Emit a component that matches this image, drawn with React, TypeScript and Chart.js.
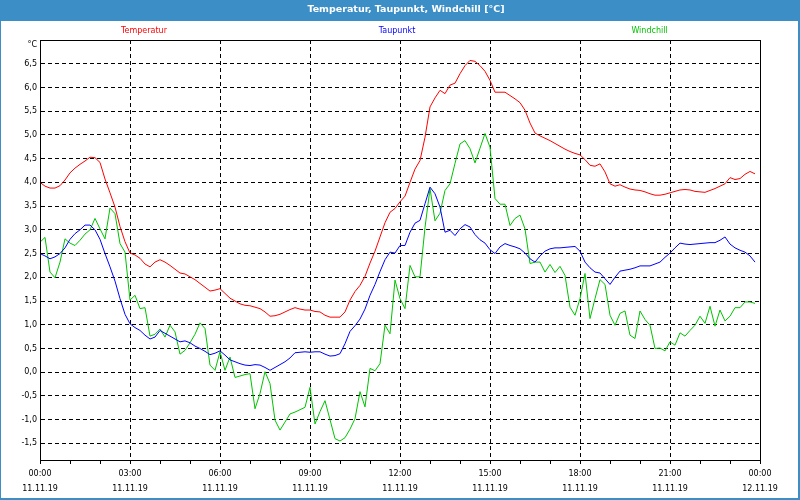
import React, { useEffect, useRef } from 'react';
import { Chart, registerables } from 'chart.js';

Chart.register(...registerables);

// Measurement times: every 10 minutes from 00:00 (minutes since midnight)
const timeMinutes: number[] = Array.from({ length: 144 }, (_, i) => i * 10);

const temperatur: number[] = [
  4.00, 3.92, 3.88, 3.88, 3.93, 4.05, 4.20, 4.30, 4.38, 4.45,
  4.53, 4.52, 4.42, 4.07, 3.78, 3.48, 3.07, 2.75, 2.51, 2.47,
  2.40, 2.28, 2.22, 2.32, 2.37, 2.32, 2.25, 2.17, 2.09, 2.07,
  2.01, 1.95, 1.87, 1.79, 1.71, 1.73, 1.76, 1.66, 1.56, 1.50,
  1.44, 1.41, 1.40, 1.37, 1.34, 1.27, 1.18, 1.19, 1.22, 1.27,
  1.32, 1.36, 1.33, 1.31, 1.31, 1.28, 1.27, 1.20, 1.16, 1.16,
  1.16, 1.27, 1.52, 1.70, 1.83, 2.02, 2.30, 2.55, 2.85, 3.15,
  3.37, 3.45, 3.59, 3.71, 4.00, 4.28, 4.46, 4.95, 5.59, 5.78,
  5.94, 5.87, 6.05, 6.09, 6.29, 6.46, 6.57, 6.55, 6.46, 6.34,
  6.15, 5.90, 5.90, 5.90, 5.83, 5.76, 5.68, 5.52, 5.25, 5.04,
  4.98, 4.93, 4.88, 4.82, 4.76, 4.70, 4.65, 4.61, 4.58, 4.48,
  4.36, 4.34, 4.39, 4.22, 3.97, 3.92, 3.95, 3.90, 3.86, 3.84,
  3.83, 3.80, 3.76, 3.73, 3.73, 3.75, 3.78, 3.81, 3.84, 3.85,
  3.84, 3.81, 3.80, 3.79, 3.83, 3.87, 3.92, 3.97, 4.10, 4.06,
  4.08, 4.17, 4.23, 4.18,
];

const taupunkt: number[] = [
  2.50, 2.45, 2.39, 2.43, 2.50, 2.62, 2.80, 2.92, 3.00, 3.10,
  3.10, 3.00, 2.80, 2.50, 2.22, 1.92, 1.55, 1.22, 1.02, 0.94,
  0.88, 0.78, 0.70, 0.74, 0.88, 0.82, 0.76, 0.70, 0.64, 0.66,
  0.62, 0.55, 0.50, 0.44, 0.37, 0.40, 0.45, 0.36, 0.26, 0.22,
  0.18, 0.15, 0.14, 0.16, 0.15, 0.10, 0.04, 0.10, 0.16, 0.22,
  0.30, 0.41, 0.42, 0.43, 0.42, 0.43, 0.43, 0.38, 0.34, 0.35,
  0.39, 0.60, 0.86, 0.98, 1.12, 1.33, 1.62, 1.85, 2.12, 2.37,
  2.53, 2.51, 2.67, 2.67, 2.95, 3.14, 3.20, 3.55, 3.90, 3.76,
  3.48, 2.95, 2.99, 2.88, 3.02, 3.11, 3.06, 2.90, 2.79, 2.72,
  2.58, 2.50, 2.64, 2.71, 2.67, 2.64, 2.60, 2.51, 2.39, 2.32,
  2.45, 2.55, 2.60, 2.62, 2.62, 2.63, 2.64, 2.65, 2.55, 2.32,
  2.20, 2.11, 2.09, 1.97, 1.85, 2.00, 2.13, 2.15, 2.17, 2.20,
  2.24, 2.24, 2.24, 2.28, 2.32, 2.42, 2.51, 2.62, 2.72, 2.70,
  2.69, 2.70, 2.71, 2.72, 2.73, 2.73, 2.78, 2.85, 2.70, 2.62,
  2.57, 2.53, 2.45, 2.32,
];

const windchill: number[] = [
  2.74, 2.84, 2.11, 1.99, 2.32, 2.81, 2.72, 2.67, 2.78, 2.91,
  3.00, 3.24, 3.02, 2.81, 3.46, 3.34, 2.71, 2.53, 1.52, 1.62,
  1.34, 1.36, 0.76, 0.80, 0.91, 0.74, 0.99, 0.85, 0.38, 0.46,
  0.62, 0.80, 1.04, 0.92, 0.15, 0.04, 0.43, 0.04, 0.32, -0.11,
  -0.08, -0.05, -0.03, -0.77, -0.45, 0.01, -0.24, -1.01, -1.22, -1.05,
  -0.88, -0.84, -0.79, -0.74, -0.32, -1.09, -0.83, -0.60, -1.00, -1.40,
  -1.45, -1.38, -1.20, -0.98, -0.41, -0.73, 0.08, 0.03, 0.18, 0.99,
  0.81, 1.94, 1.55, 1.34, 2.25, 2.01, 2.01, 3.05, 3.87, 3.19,
  3.35, 3.83, 3.97, 4.40, 4.81, 4.88, 4.71, 4.41, 4.72, 5.03,
  4.74, 3.66, 3.54, 3.54, 3.09, 3.24, 3.31, 3.02, 2.29, 2.32,
  2.32, 2.11, 2.27, 2.10, 2.23, 2.04, 1.37, 1.20, 1.55, 2.08,
  1.13, 1.55, 1.95, 1.85, 1.20, 0.99, 1.24, 1.29, 0.78, 0.71,
  1.29, 1.11, 0.99, 0.50, 0.51, 0.45, 0.64, 0.57, 0.83, 0.76,
  0.88, 0.99, 1.18, 1.03, 1.39, 0.97, 1.31, 1.08, 1.18, 1.36,
  1.36, 1.48, 1.48, 1.45,
];

const seriesNames = ['Temperatur', 'Taupunkt', 'Windchill'];
const seriesColors = ['#ff0000', '#0000ff', '#00c400'];

const xLabelHours = [0, 3, 6, 9, 12, 15, 18, 21, 24];
const xLabelTimes = ['00:00', '03:00', '06:00', '09:00', '12:00', '15:00', '18:00', '21:00', '00:00'];
const xLabelDates = ['11.11.19', '11.11.19', '11.11.19', '11.11.19', '11.11.19', '11.11.19', '11.11.19', '11.11.19', '12.11.19'];
const xMinorHours = Array.from({ length: 25 }, (_, i) => i);

const yTickValues = [-1.5, -1.0, -0.5, 0.0, 0.5, 1.0, 1.5, 2.0, 2.5, 3.0, 3.5, 4.0, 4.5, 5.0, 5.5, 6.0, 6.5];

const titleText = 'Temperatur, Taupunkt, Windchill [°C]';
const unitText = '°C';

const FONT = '"DejaVu Sans", Verdana, sans-serif';
const FRAME_BLUE = '#3c8ec6';

const framePlugin = {
  id: 'framePlugin',
  beforeDraw(chart: any) {
    const { ctx, width, height } = chart;
    ctx.save();
    ctx.fillStyle = '#ffffff';
    ctx.fillRect(0, 0, width, height);
    ctx.fillStyle = FRAME_BLUE;
    ctx.fillRect(0, 0, width, 21);
    ctx.fillRect(0, 0, 1, height);
    ctx.fillRect(width - 2, 0, 2, height);
    ctx.fillRect(0, height - 2, width, 2);
    ctx.restore();
  },
  afterDraw(chart: any) {
    const { ctx, chartArea } = chart;
    const { left, top, right, bottom } = chartArea;
    ctx.save();
    // plot box
    ctx.strokeStyle = '#000';
    ctx.lineWidth = 1;
    ctx.setLineDash([]);
    ctx.strokeRect(Math.round(left) + 0.5, Math.round(top) + 0.5, Math.round(right - left), Math.round(bottom - top));
    // title
    ctx.fillStyle = '#ffffff';
    ctx.font = `bold 9.5px ${FONT}`;
    ctx.textAlign = 'center';
    ctx.textBaseline = 'alphabetic';
    ctx.fillText(titleText, 406, 12);
    // legend
    ctx.font = `8px ${FONT}`;
    ctx.textBaseline = 'middle';
    const offsets = [104, 357, 609.5];
    seriesNames.forEach((name, i) => {
      ctx.fillStyle = seriesColors[i];
      ctx.fillText(name, left + offsets[i], 31);
    });
    // unit label
    ctx.fillStyle = '#000';
    ctx.textAlign = 'right';
    ctx.fillText(unitText, left - 3, top + 4.5);
    ctx.restore();
  },
};

export default function App() {
  const canvasRef = useRef<HTMLCanvasElement | null>(null);

  useEffect(() => {
    const canvas = canvasRef.current;
    if (!canvas) return;
    const seriesValues = [temperatur, taupunkt, windchill];
    const chart = new Chart(canvas, {
      type: 'line',
      data: {
        datasets: seriesValues.map((vals, si) => ({
          label: seriesNames[si],
          data: timeMinutes.map((m, i) => ({ x: m / 60, y: vals[i] })),
          borderColor: seriesColors[si],
          backgroundColor: seriesColors[si],
          borderWidth: 1,
          pointRadius: 0,
          fill: false,
          tension: 0,
        })),
      },
      options: {
        responsive: false,
        animation: false,
        layout: { padding: { left: 0, top: 40, right: 40, bottom: 0 } },
        plugins: {
          legend: { display: false },
          tooltip: { enabled: false },
          title: { display: false },
        },
        scales: {
          x: {
            type: 'linear',
            min: 0,
            max: 24,
            afterBuildTicks: (s: any) => {
              s.ticks = xMinorHours.map((v) => ({ value: v }));
            },
            afterFit: (s: any) => {
              s.height = 40;
            },
            ticks: {
              autoSkip: false,
              maxRotation: 0,
              minRotation: 0,
              padding: 2,
              color: '#000',
              font: { family: FONT, size: 8, lineHeight: '15px' },
              callback: (v: any) => {
                const i = xLabelHours.indexOf(Number(v));
                return i >= 0 ? [xLabelTimes[i], xLabelDates[i]] : '';
              },
            },
            grid: {
              color: (c: any) => (c.tick && Number(c.tick.value) % 3 === 0 ? '#000' : 'rgba(0,0,0,0)'),
              tickColor: '#000',
              tickLength: 4,
              lineWidth: 1,
              drawTicks: true,
            },
            border: { display: true, color: '#000', width: 1, dash: [4, 3] },
          },
          y: {
            min: -1.85,
            max: 7.0,
            afterBuildTicks: (s: any) => {
              s.ticks = yTickValues.map((v) => ({ value: v }));
            },
            afterFit: (s: any) => {
              s.width = 40;
            },
            ticks: {
              padding: 3,
              color: '#000',
              font: { family: FONT, size: 8 },
              callback: (v: any) => Number(v).toFixed(1).replace('.', ','),
            },
            grid: { color: '#000', lineWidth: 1, drawTicks: false },
            border: { display: true, color: '#000', width: 1, dash: [4, 3] },
          },
        },
      } as any,
      plugins: [framePlugin],
    });
    return () => chart.destroy();
  }, []);

  return (
    <div style={{ position: 'absolute', left: 0, top: 0, width: 800, height: 500 }}>
      <canvas ref={canvasRef} width={800} height={500} style={{ display: 'block', width: 800, height: 500 }} />
    </div>
  );
}
